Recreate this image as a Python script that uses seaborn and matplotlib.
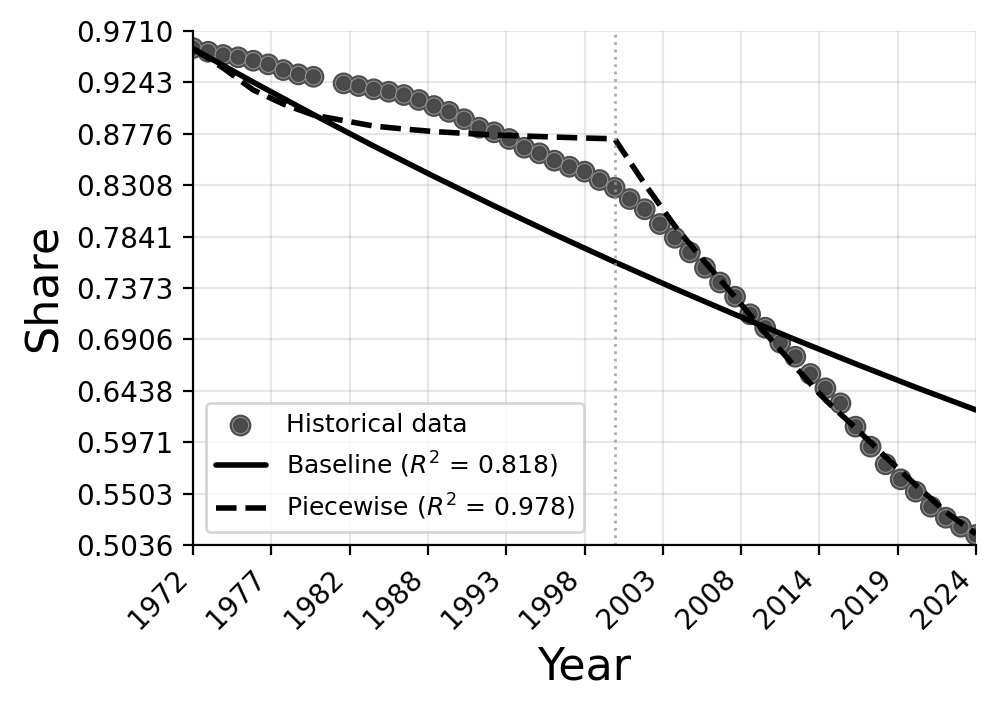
"""
plot.py — historical share vs. baseline and piecewise fits.
"""

import matplotlib
import matplotlib.pyplot as plt
import matplotlib.patheffects as pe
import numpy as np
import seaborn as sns

matplotlib.use("Agg")

# ---------------------------------------------------------------------------
# Data
# ---------------------------------------------------------------------------
years = [1972, 1973, 1974, 1975, 1976, 1977, 1978, 1979, 1980,
         1982, 1983, 1984, 1985, 1986, 1987, 1988, 1989, 1990, 1991,
         1992, 1993, 1994, 1995, 1996, 1997, 1998, 1999, 2000, 2001,
         2002, 2003, 2004, 2005, 2006, 2007, 2008, 2009, 2010, 2011,
         2012, 2013, 2014, 2015, 2016, 2017, 2018, 2019, 2020, 2021,
         2022, 2023, 2024]
share = [0.9555, 0.9522, 0.9492, 0.9471, 0.9440, 0.9407, 0.9355, 0.9316, 0.9294,
         0.9234, 0.9210, 0.9180, 0.9158, 0.9128, 0.9083, 0.9028, 0.8975, 0.8908, 0.8831,
         0.8789, 0.8728, 0.8649, 0.8598, 0.8531, 0.8476, 0.8431, 0.8355, 0.8285, 0.8182,
         0.8089, 0.7955, 0.7830, 0.7697, 0.7557, 0.7423, 0.7294, 0.7134, 0.7012, 0.6876,
         0.6748, 0.6591, 0.6461, 0.6324, 0.6112, 0.5930, 0.5770, 0.5633, 0.5521, 0.5384,
         0.5284, 0.5202, 0.5127]

baseline_years = [1972, 1976, 1980, 1984, 1988, 1992, 1996, 2000,
                  2004, 2008, 2012, 2016, 2020, 2024]
baseline_share = [0.9550, 0.9245, 0.8950, 0.8664, 0.8388, 0.8120, 0.7861, 0.7610,
                  0.7367, 0.7132, 0.6904, 0.6684, 0.6470, 0.6264]

piecewise_years = [1972, 1973, 1974, 1976, 1978, 1980, 1982, 1984, 1986, 1988,
                   1990, 1992, 1994, 1996, 1998, 2000, 2002, 2004, 2006, 2008,
                   2010, 2012, 2014, 2016, 2018, 2020, 2022, 2024]
piecewise_share = [0.9546, 0.9464, 0.9374, 0.9174, 0.9046, 0.8946, 0.8896, 0.8846,
                   0.8819, 0.8796, 0.8780, 0.8764, 0.8755, 0.8746, 0.8737, 0.8730,
                   0.8319, 0.7937, 0.7609, 0.7291, 0.6964, 0.6655, 0.6355, 0.6100,
                   0.5836, 0.5582, 0.5336, 0.5136]

BREAK_YEAR = 2000
BASELINE_R2 = 0.818
PIECEWISE_R2 = 0.978

X_MIN, X_MAX = 1972, 2024
Y_MIN, Y_MAX = 0.50360, 0.97104

# ---------------------------------------------------------------------------
# Style
# ---------------------------------------------------------------------------
sns.set_style("ticks")
plt.rcParams.update({
    "font.family": ["DejaVu Sans"],
    "axes.edgecolor": "black",
    "axes.labelcolor": "black",
    "text.color": "black",
    "xtick.color": "black",
    "ytick.color": "black",
})

fig, ax = plt.subplots(figsize=(4.98, 3.555), dpi=200)
fig.subplots_adjust(left=0.1938, right=0.9799, top=0.9564, bottom=0.2335)

# Historical points (outer dark band + thin light ring)
sns.scatterplot(
    x=years, y=share, ax=ax,
    s=34, color="#474747", alpha=0.85,
    edgecolor="#9a9a9a", linewidth=0.4,
    label="Historical data",
    path_effects=[pe.Stroke(linewidth=2.0, foreground="#4f4f4f"), pe.Normal()],
)

sns.lineplot(x=baseline_years, y=baseline_share, ax=ax, color="black",
             linewidth=2.0, label=f"Baseline ($R^2$ = {BASELINE_R2:.3f})")
sns.lineplot(x=piecewise_years, y=piecewise_share, ax=ax, color="black",
             linewidth=2.0, linestyle="--",
             label=f"Piecewise ($R^2$ = {PIECEWISE_R2:.3f})")

ax.axvline(BREAK_YEAR, color="#999999", linestyle=":", linewidth=1.0, alpha=0.8)

# Axes
xticks = np.linspace(X_MIN, X_MAX, 11)
yticks = np.linspace(Y_MIN, Y_MAX, 11)
ax.set_xlim(X_MIN, X_MAX)
ax.set_ylim(Y_MIN, Y_MAX)
ax.set_xticks(xticks)
ax.set_xticklabels([f"{v:.0f}" for v in xticks], rotation=45, ha="right")
ax.set_yticks(yticks)
ax.set_yticklabels([f"{v:.4f}" for v in yticks])
ax.tick_params(labelsize=10)

ax.set_xlabel("Year", fontsize=16)
ax.set_ylabel("Share", fontsize=16)
ax.grid(True, color="#b0b0b0", alpha=0.3, linewidth=0.8)
sns.despine(ax=ax)

ax.legend(loc="lower left", fontsize=9)

fig.savefig("out.png", dpi=200)
plt.close(fig)
